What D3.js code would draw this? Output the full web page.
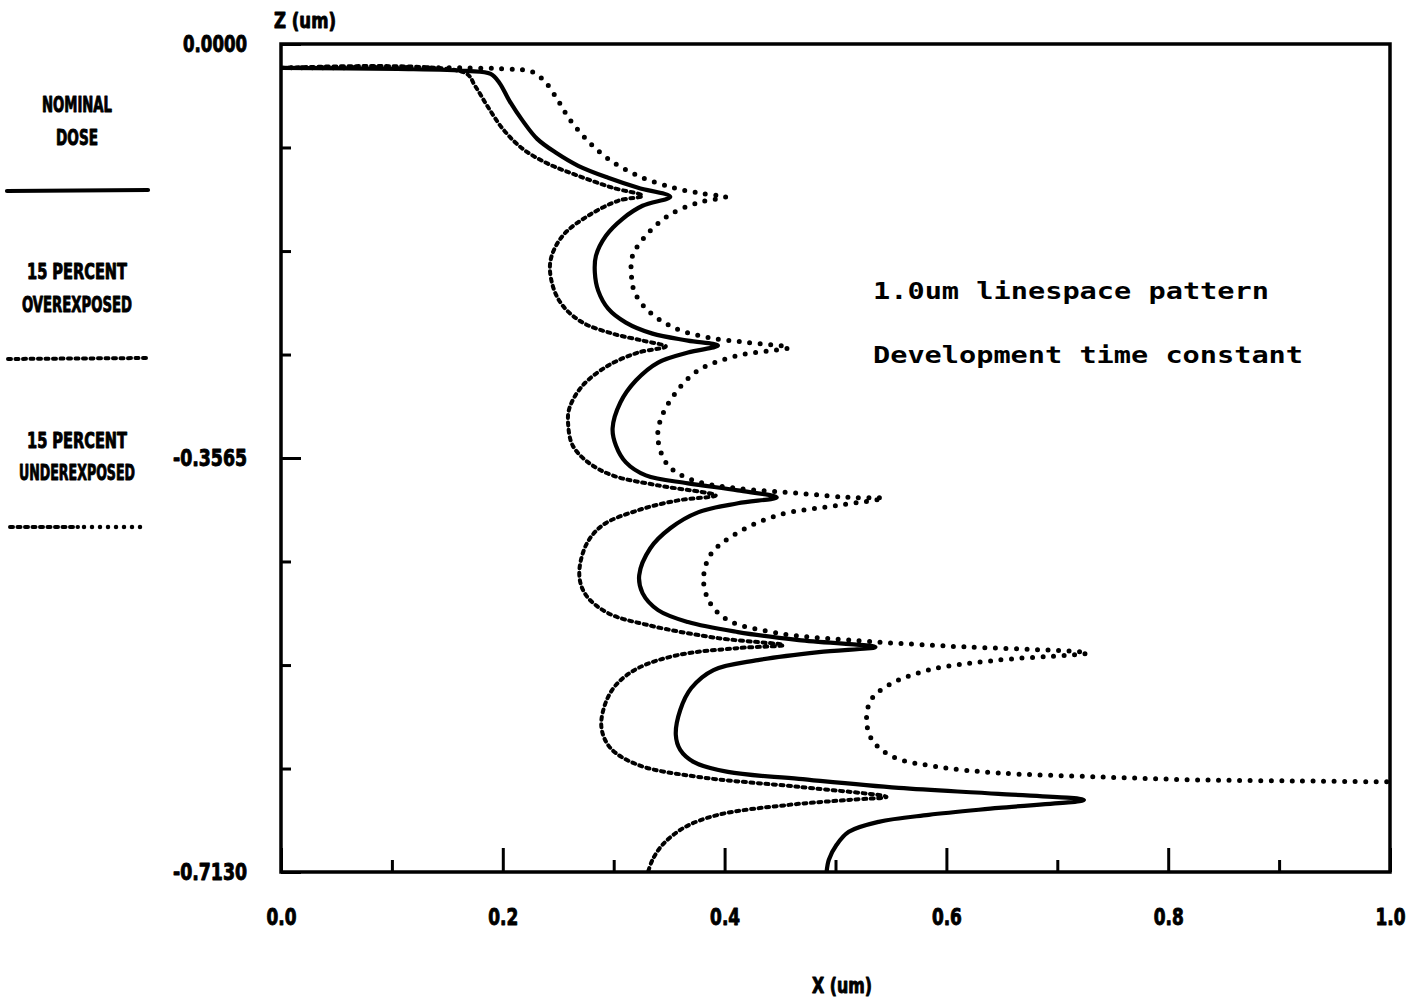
<!DOCTYPE html>
<html>
<head>
<meta charset="utf-8">
<script src="https://cdn.jsdelivr.net/npm/d3@7"></script>
<style>
  html, body { margin: 0; padding: 0; background: #fff; }
  svg { display: block; }
</style>
</head>
<body>
<svg id="chart" width="1422" height="1000"></svg>
<script>
// ---------- DATA (X in um, Z in um) ----------
const nominalX = [0, 0.105, 0.168, 0.189, 0.197, 0.206, 0.218, 0.231, 0.248, 0.268, 0.295, 0.322, 0.351,
  0.326, 0.308, 0.293, 0.284, 0.283, 0.286, 0.295, 0.311, 0.335, 0.367, 0.394,
  0.367, 0.340, 0.320, 0.306, 0.299, 0.302, 0.311, 0.329, 0.367, 0.412, 0.447,
  0.412, 0.376, 0.351, 0.333, 0.323, 0.326, 0.340, 0.367, 0.412, 0.467, 0.536,
  0.485, 0.430, 0.390, 0.370, 0.360, 0.356, 0.360, 0.372, 0.403, 0.467, 0.557, 0.647, 0.724,
  0.647, 0.584, 0.539, 0.512, 0.501, 0.494, 0.492];
const nominalZ = [-0.0206, -0.0215, -0.0232, -0.0258, -0.0335, -0.0490, -0.0662, -0.0817, -0.0937, -0.1049, -0.1152, -0.1238, -0.1316,
  -0.1393, -0.1505, -0.1651, -0.1823, -0.1969, -0.2124, -0.2279, -0.2399, -0.2494, -0.2554, -0.2597,
  -0.2657, -0.2743, -0.2898, -0.3087, -0.3310, -0.3457, -0.3603, -0.3715, -0.3783, -0.3844, -0.3904,
  -0.3955, -0.4033, -0.4170, -0.4342, -0.4574, -0.4729, -0.4875, -0.4978, -0.5064, -0.5133, -0.5193,
  -0.5236, -0.5305, -0.5391, -0.5546, -0.5735, -0.5950, -0.6079, -0.6182, -0.6268, -0.6328, -0.6406, -0.6457, -0.6509,
  -0.6578, -0.6638, -0.6698, -0.6784, -0.6896, -0.7025, -0.7128];

const overX = [0, 0.166, 0.175, 0.186, 0.200, 0.218, 0.241, 0.268, 0.299, 0.326,
  0.304, 0.277, 0.254, 0.243, 0.245, 0.254, 0.272, 0.299, 0.326, 0.347,
  0.322, 0.295, 0.272, 0.260, 0.259, 0.263, 0.277, 0.299, 0.340, 0.392,
  0.358, 0.322, 0.290, 0.275, 0.269, 0.275, 0.295, 0.331, 0.394, 0.453,
  0.412, 0.358, 0.322, 0.302, 0.292, 0.289, 0.297, 0.322, 0.376, 0.467, 0.546,
  0.512, 0.458, 0.394, 0.363, 0.344, 0.335, 0.331];
const overZ = [-0.0206, -0.0249, -0.0361, -0.0533, -0.0731, -0.0903, -0.1032, -0.1135, -0.1238, -0.1307,
  -0.1350, -0.1479, -0.1651, -0.1866, -0.2081, -0.2253, -0.2399, -0.2494, -0.2554, -0.2605,
  -0.2657, -0.2769, -0.2941, -0.3138, -0.3285, -0.3457, -0.3603, -0.3715, -0.3801, -0.3887,
  -0.3930, -0.4015, -0.4144, -0.4316, -0.4574, -0.4746, -0.4901, -0.5004, -0.5116, -0.5176,
  -0.5202, -0.5262, -0.5374, -0.5520, -0.5692, -0.5890, -0.6062, -0.6208, -0.6311, -0.6397, -0.6483,
  -0.6509, -0.6552, -0.6638, -0.6750, -0.6896, -0.7025, -0.7128];

const underX = [0, 0.204, 0.227, 0.239, 0.250, 0.260, 0.275, 0.295, 0.322, 0.354, 0.381, 0.401,
  0.376, 0.349, 0.329, 0.317, 0.316, 0.319, 0.331, 0.354, 0.385, 0.421, 0.458,
  0.412, 0.376, 0.354, 0.342, 0.340, 0.349, 0.372, 0.412, 0.467, 0.512, 0.543,
  0.503, 0.448, 0.408, 0.387, 0.381, 0.387, 0.403, 0.448, 0.512, 0.602, 0.727,
  0.647, 0.584, 0.548, 0.532, 0.528, 0.533, 0.552, 0.593, 0.647, 0.738, 0.828, 0.919, 0.998];
const underZ = [-0.0206, -0.0215, -0.0241, -0.0335, -0.0490, -0.0645, -0.0817, -0.0989, -0.1135, -0.1238, -0.1290, -0.1316,
  -0.1367, -0.1479, -0.1651, -0.1823, -0.1995, -0.2141, -0.2296, -0.2442, -0.2528, -0.2571, -0.2614,
  -0.2683, -0.2812, -0.3027, -0.3242, -0.3414, -0.3629, -0.3758, -0.3826, -0.3869, -0.3904, -0.3912,
  -0.3972, -0.4058, -0.4230, -0.4402, -0.4617, -0.4815, -0.4961, -0.5073, -0.5133, -0.5185, -0.5245,
  -0.5305, -0.5391, -0.5520, -0.5649, -0.5821, -0.5993, -0.6139, -0.6225, -0.6277, -0.6311, -0.6337, -0.6346, -0.6354];

const xMajorTicks = [0.0, 0.2, 0.4, 0.6, 0.8, 1.0];
const xMinorTicks = [0.1, 0.3, 0.5, 0.7, 0.9];
const zMajorTicks = [0.0, -0.3565, -0.7130];
const zMinorTicks = [-0.0891, -0.1783, -0.2674, -0.4456, -0.5348, -0.6239];

const legendLabels = [["NOMINAL", "DOSE"], ["15 PERCENT", "OVEREXPOSED"], ["15 PERCENT", "UNDEREXPOSED"]];
const noteLines = ["1.0um linespace pattern", "Development time constant"];

// ---------- LAYOUT ----------
const svg = d3.select("#chart");
const x = d3.scaleLinear().domain([0, 1]).range([281, 1390]);
const y = d3.scaleLinear().domain([-0.713, 0]).range([872, 44]);

const condFont = "'DejaVu Sans Condensed', 'DejaVu Sans', sans-serif";
const monoFont = "'DejaVu Sans Mono', 'Liberation Mono', monospace";
const heavy = sel => sel.attr("stroke", "#000").attr("stroke-width", 0.9).attr("stroke-linejoin", "round");

// clip
svg.append("defs").append("clipPath").attr("id", "plotclip")
  .append("rect").attr("x", x(0)).attr("y", y(0))
  .attr("width", x(1) - x(0)).attr("height", y(-0.713) - y(0));

// frame
svg.append("rect")
  .attr("x", x(0)).attr("y", y(0))
  .attr("width", x(1) - x(0)).attr("height", y(-0.713) - y(0))
  .attr("fill", "none").attr("stroke", "#000").attr("stroke-width", 3.5);

// bottom axis major
const gxMaj = svg.append("g").attr("transform", `translate(0,${y(-0.713)})`)
  .call(d3.axisBottom(x).tickValues(xMajorTicks).tickSize(-24).tickPadding(37)
    .tickFormat(d3.format(".1f")));
gxMaj.select(".domain").remove();
gxMaj.selectAll("line").attr("stroke", "#000").attr("stroke-width", 3);
gxMaj.selectAll("text")
  .attr("font-family", condFont).attr("font-weight", "bold").attr("font-size", 23)
  .attr("fill", "#000")
  .attr("textLength", 30).attr("lengthAdjust", "spacingAndGlyphs")
  .call(heavy);

const gxMin = svg.append("g").attr("transform", `translate(0,${y(-0.713)})`)
  .call(d3.axisBottom(x).tickValues(xMinorTicks).tickSize(-12).tickFormat(""));
gxMin.select(".domain").remove();
gxMin.selectAll("line").attr("stroke", "#000").attr("stroke-width", 3);

// left axis major
const gyMaj = svg.append("g").attr("transform", `translate(${x(0)},0)`)
  .call(d3.axisLeft(y).tickValues(zMajorTicks).tickSize(-20).tickPadding(34)
    .tickFormat(d => d3.format(".4f")(d).replace("\u2212", "-")));
gyMaj.select(".domain").remove();
gyMaj.selectAll("line").attr("stroke", "#000").attr("stroke-width", 3);
gyMaj.selectAll("text")
  .attr("font-family", condFont).attr("font-weight", "bold").attr("font-size", 23)
  .attr("fill", "#000")
  .attr("textLength", d => d < 0 ? 74 : 64).attr("lengthAdjust", "spacingAndGlyphs")
  .call(heavy);

const gyMin = svg.append("g").attr("transform", `translate(${x(0)},0)`)
  .call(d3.axisLeft(y).tickValues(zMinorTicks).tickSize(-10).tickFormat(""));
gyMin.select(".domain").remove();
gyMin.selectAll("line").attr("stroke", "#000").attr("stroke-width", 3);

// axis titles
svg.append("text").attr("x", 274).attr("y", 28)
  .attr("font-family", condFont).attr("font-weight", "bold").attr("font-size", 21)
  .attr("textLength", 62).attr("lengthAdjust", "spacingAndGlyphs")
  .call(heavy).text("Z (um)");
svg.append("text").attr("x", 812).attr("y", 993)
  .attr("font-family", condFont).attr("font-weight", "bold").attr("font-size", 21)
  .attr("textLength", 60).attr("lengthAdjust", "spacingAndGlyphs")
  .call(heavy).text("X (um)");

// ---------- CURVES ----------
const zip = (xs, zs) => xs.map((v, i) => [v, zs[i]]);
const line = d3.line().x(d => x(d[0])).y(d => y(d[1])).curve(d3.curveCatmullRom.alpha(0.5));

const plot = svg.append("g").attr("clip-path", "url(#plotclip)");
const series = [
  { data: zip(nominalX, nominalZ), width: 4.2, dash: null },
  { data: zip(overX, overZ), width: 4, dash: "3 4.5" },
  { data: zip(underX, underZ), width: 5, dash: "0 10.5" }
];
series.forEach(s => {
  plot.append("path").attr("d", line(s.data))
    .attr("fill", "none").attr("stroke", "#000")
    .attr("stroke-width", s.width)
    .attr("stroke-linecap", "round").attr("stroke-linejoin", "round")
    .attr("stroke-dasharray", s.dash);
});

// ---------- LEGEND ----------
const legendTextY = [[105, 138], [272, 305], [441, 473]];
const legendTextW = [[70, 42], [100, 110], [100, 116]];
legendLabels.forEach((lines, i) => {
  lines.forEach((t, j) => {
    svg.append("text").attr("x", 77).attr("y", legendTextY[i][j])
      .attr("text-anchor", "middle").attr("dominant-baseline", "central")
      .attr("font-family", condFont).attr("font-weight", "bold").attr("font-size", 21)
      .attr("textLength", legendTextW[i][j]).attr("lengthAdjust", "spacingAndGlyphs")
      .call(heavy).text(t);
  });
});
// legend samples
svg.append("line").attr("x1", 7).attr("x2", 148).attr("y1", 191).attr("y2", 190)
  .attr("stroke", "#000").attr("stroke-width", 4.2).attr("stroke-linecap", "round");
svg.append("line").attr("x1", 8).attr("x2", 147).attr("y1", 359).attr("y2", 358)
  .attr("stroke", "#000").attr("stroke-width", 4).attr("stroke-linecap", "round")
  .attr("stroke-dasharray", "3 4.5");
svg.append("line").attr("x1", 10).attr("x2", 78).attr("y1", 527).attr("y2", 527)
  .attr("stroke", "#000").attr("stroke-width", 4).attr("stroke-linecap", "round")
  .attr("stroke-dasharray", "3 4.5");
svg.append("line").attr("x1", 84).attr("x2", 145).attr("y1", 527).attr("y2", 527)
  .attr("stroke", "#000").attr("stroke-width", 4.5).attr("stroke-linecap", "round")
  .attr("stroke-dasharray", "0 8");

// ---------- NOTES ----------
const noteY = [291, 355];
const noteW = [396, 430];
noteLines.forEach((t, i) => {
  svg.append("text").attr("x", 873).attr("y", noteY[i])
    .attr("dominant-baseline", "central")
    .attr("font-family", monoFont).attr("font-weight", "bold").attr("font-size", 23)
    .attr("textLength", noteW[i]).attr("lengthAdjust", "spacingAndGlyphs")
    .text(t);
});
</script>
</body>
</html>
